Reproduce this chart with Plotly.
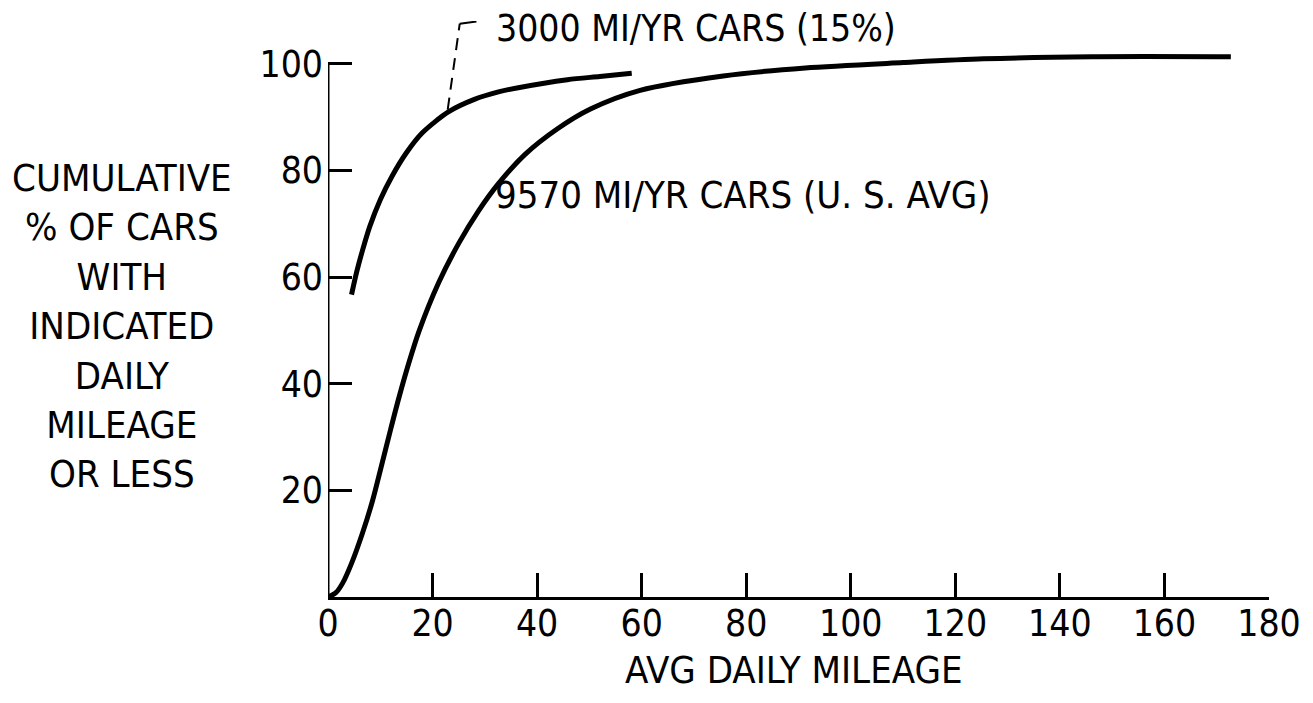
import plotly.graph_objects as go

# Data
cars3000_x = [4.5, 5.5, 6.6, 8.0, 10.0, 12.3, 15.0, 18.0, 23.1, 28.0, 32.6, 36.4, 45.8, 52.0, 58.1]
cars3000_y = [56.7, 61.0, 65.0, 69.5, 74.5, 79.0, 83.3, 87.0, 91.0, 93.3, 94.7, 95.5, 97.0, 97.6, 98.2]

cars9570_x = [0, 1.5, 2.8, 4.5, 6.6, 8.5, 10.2, 12.0, 13.6, 15.5, 17.4, 21.2, 25.0, 28.8, 32.6,
              37.7, 43.9, 50.2, 59.7, 75.6, 91.3, 110.0, 125.4, 146.2, 172.7]
cars9570_y = [0, 0.8, 2.6, 6.3, 12.0, 18.0, 24.5, 31.5, 37.5, 44.0, 49.8, 59.0, 66.3, 72.4, 77.5,
              83.0, 87.8, 91.5, 95.0, 97.7, 99.2, 100.2, 100.9, 101.3, 101.3]

x_ticks = [0, 20, 40, 60, 80, 100, 120, 140, 160, 180]
y_ticks = [20, 40, 60, 80, 100]

label_3000 = "3000 MI/YR CARS (15%)"
label_9570 = "9570 MI/YR CARS (U. S. AVG)"
x_title = "AVG DAILY MILEAGE"
y_title = "CUMULATIVE<br>% OF CARS<br>WITH<br>INDICATED<br>DAILY<br>MILEAGE<br>OR LESS"

FONT = "DejaVu Sans Condensed, Liberation Sans Narrow, sans-serif"

W, H = 1305, 695
L, R, T, B = 320, 35, 13, 106
PH = H - T - B

fig = go.Figure()
fig.add_trace(go.Scatter(x=cars3000_x, y=cars3000_y, mode="lines",
                         line=dict(color="black", width=5, shape="spline", smoothing=0.8),
                         showlegend=False, hoverinfo="skip"))
fig.add_trace(go.Scatter(x=cars9570_x, y=cars9570_y, mode="lines",
                         line=dict(color="black", width=5, shape="spline", smoothing=0.8),
                         showlegend=False, hoverinfo="skip"))

fig.update_layout(
    width=W, height=H,
    margin=dict(l=L, r=R, t=T, b=B),
    paper_bgcolor="white", plot_bgcolor="white",
    font=dict(family=FONT, size=38, color="black"),
    xaxis=dict(range=[0, 180], tickvals=x_ticks, ticktext=[str(v) for v in x_ticks],
               ticks="inside", ticklen=24, tickwidth=3, tickcolor="black",
               showline=True, linecolor="black", linewidth=3,
               showgrid=False, zeroline=False, ticklabelstandoff=-8,
               tickfont=dict(family=FONT, size=37)),
    yaxis=dict(range=[0, 108], tickvals=y_ticks, ticktext=[str(v) for v in y_ticks],
               ticks="inside", ticklen=24, tickwidth=3, tickcolor="black",
               showline=False, showgrid=False, zeroline=False, ticklabelstandoff=4,
               tickfont=dict(family=FONT, size=37)),
    shapes=[
        dict(type="line", xref="x", yref="y", x0=0, y0=0, x1=0, y1=100,
             line=dict(color="black", width=3)),
        dict(type="line", xref="x", yref="y", x0=22.9, y0=91.4, x1=25.2, y1=107.5,
             line=dict(color="black", width=2, dash="12px,8px")),
        dict(type="line", xref="x", yref="y", x0=25.2, y0=107.5, x1=28.4, y1=107.9,
             line=dict(color="black", width=2)),
    ],
    annotations=[
        dict(text=label_3000, xref="x", yref="y", x=32, y=106.6, xanchor="left",
             yanchor="middle", showarrow=False, borderpad=0,
             font=dict(family=FONT, size=37)),
        dict(text=label_9570, xref="x", yref="y", x=31.6, y=75.4, xanchor="left",
             yanchor="middle", showarrow=False, font=dict(family=FONT, size=38)),
        dict(text=x_title, xref="paper", yref="paper", x=(790 - L) / 950, y=-(662 - 589) / PH,
             xanchor="center", yanchor="middle", showarrow=False,
             font=dict(family=FONT, size=38)),
        dict(text=y_title, xref="paper", yref="paper", x=(112 - L) / 950,
             y=(589 - 318) / PH, xanchor="center", yanchor="middle",
             showarrow=False, align="center", font=dict(family=FONT, size=38)),
    ],
)

fig.write_html("out.html")
